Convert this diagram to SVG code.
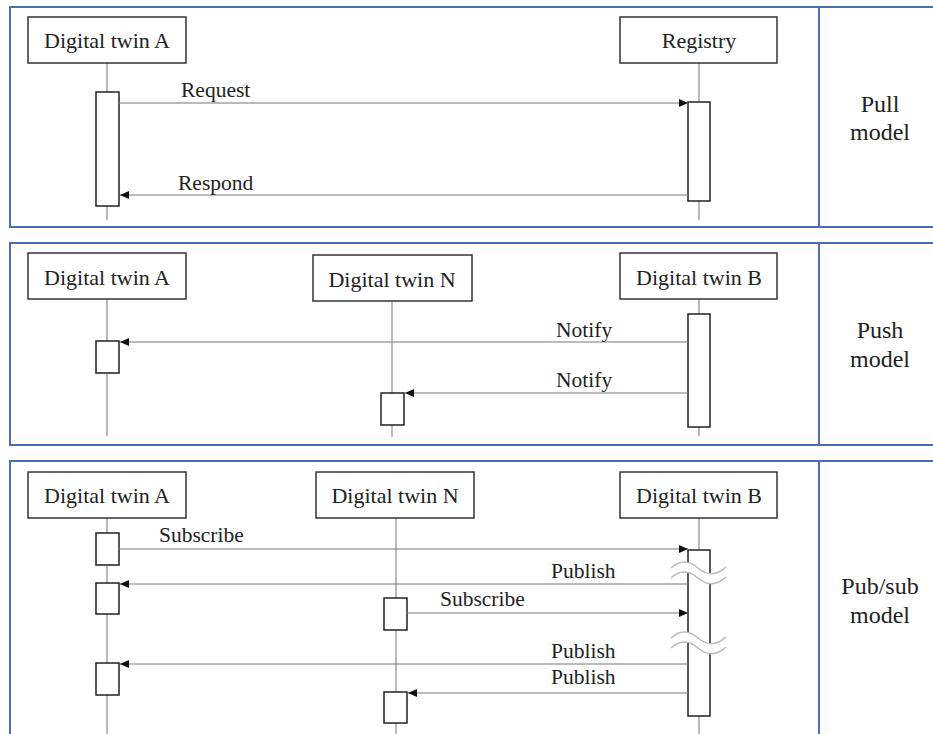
<svg xmlns="http://www.w3.org/2000/svg" width="933" height="734" viewBox="0 0 933 734">
  <style>
    .frame { fill: none; stroke: #4a6db3; stroke-width: 2; }
    .divider { stroke: #4a6db3; stroke-width: 2; }
    .actor rect { fill: #fff; stroke: #333; stroke-width: 1.5; }
    .life { stroke: #777; stroke-width: 1; }
    .act { fill: #fff; stroke: #222; stroke-width: 1.5; }
    .msg { stroke: #777; stroke-width: 1; fill: none; marker-end: url(#ah); }
    .brk-fill { fill: #fff; stroke: none; }
    .brk { fill: none; stroke: #bbb; stroke-width: 1.5; }
  </style>
  <defs>
    <marker id="ah" markerUnits="userSpaceOnUse" markerWidth="9" markerHeight="8" refX="9" refY="4" orient="auto">
      <path d="M0,0 L9,4 L0,8 z" fill="#111"/>
    </marker>
  </defs>

  <rect width="933" height="734" fill="#fff"/>

  <!-- panel frames -->
  <g id="frames">
    <rect class="frame" x="10" y="7" width="930" height="220"/>
    <line class="divider" x1="819" y1="7" x2="819" y2="227"/>
    <rect class="frame" x="10" y="243" width="930" height="202"/>
    <line class="divider" x1="819" y1="243" x2="819" y2="445"/>
    <rect class="frame" x="10" y="461" width="930" height="300"/>
    <line class="divider" x1="819" y1="461" x2="819" y2="734"/>
  </g>

  <!-- lifelines -->
  <g id="lifelines">
    <line class="life" x1="107" y1="63" x2="107" y2="220"/>
    <line class="life" x1="699" y1="63" x2="699" y2="220"/>
    <line class="life" x1="107" y1="299" x2="107" y2="436"/>
    <line class="life" x1="392" y1="301" x2="392" y2="437"/>
    <line class="life" x1="699" y1="299" x2="699" y2="436"/>
    <line class="life" x1="107" y1="518" x2="107" y2="734"/>
    <line class="life" x1="396" y1="518" x2="396" y2="734"/>
    <line class="life" x1="699" y1="518" x2="699" y2="734"/>
  </g>

  <g font-family="Liberation Serif, serif" fill="#222">
  <!-- Pull model -->
  <g id="pull-twin-a" class="actor" font-size="22" text-anchor="middle">
    <rect x="28" y="17" width="158" height="46"/>
    <text x="107" y="48">Digital twin A</text>
  </g>
  <g id="pull-registry" class="actor" font-size="22" text-anchor="middle">
    <rect x="620" y="17" width="157" height="46"/>
    <text x="699" y="48">Registry</text>
  </g>
  <g id="pull-activations">
    <rect class="act" x="96" y="92" width="23" height="114"/>
    <rect class="act" x="688" y="102" width="22" height="99"/>
  </g>
  <g id="pull-label" font-size="24" text-anchor="middle">
    <text x="880" y="112">Pull</text>
    <text x="880" y="140">model</text>
  </g>

  <!-- Push model -->
  <g id="push-twin-a" class="actor" font-size="22" text-anchor="middle">
    <rect x="28" y="253" width="158" height="46"/>
    <text x="107" y="285">Digital twin A</text>
  </g>
  <g id="push-twin-n" class="actor" font-size="22" text-anchor="middle">
    <rect x="313" y="255" width="159" height="46"/>
    <text x="392" y="287">Digital twin N</text>
  </g>
  <g id="push-twin-b" class="actor" font-size="22" text-anchor="middle">
    <rect x="620" y="253" width="157" height="46"/>
    <text x="699" y="285">Digital twin B</text>
  </g>
  <g id="push-activations">
    <rect class="act" x="96" y="341" width="23" height="32"/>
    <rect class="act" x="381" y="393" width="23" height="32"/>
    <rect class="act" x="688" y="314" width="22" height="113"/>
  </g>
  <g id="push-label" font-size="24" text-anchor="middle">
    <text x="880" y="338">Push</text>
    <text x="880" y="367">model</text>
  </g>

  <!-- Pub/sub model -->
  <g id="pubsub-twin-a" class="actor" font-size="22" text-anchor="middle">
    <rect x="28" y="472" width="158" height="46"/>
    <text x="107" y="503">Digital twin A</text>
  </g>
  <g id="pubsub-twin-n" class="actor" font-size="22" text-anchor="middle">
    <rect x="316" y="472" width="158" height="46"/>
    <text x="395" y="503">Digital twin N</text>
  </g>
  <g id="pubsub-twin-b" class="actor" font-size="22" text-anchor="middle">
    <rect x="620" y="472" width="157" height="46"/>
    <text x="699" y="503">Digital twin B</text>
  </g>
  <g id="pubsub-activations">
    <rect class="act" x="96" y="533" width="23" height="32"/>
    <rect class="act" x="96" y="583" width="23" height="31"/>
    <rect class="act" x="96" y="663" width="23" height="32"/>
    <rect class="act" x="384" y="598" width="23" height="32"/>
    <rect class="act" x="384" y="692" width="23" height="31"/>
    <rect class="act" x="688" y="550" width="22" height="166"/>
  </g>
  <g id="pubsub-label" font-size="24" text-anchor="middle">
    <text x="880" y="594">Pub/sub</text>
    <text x="880" y="623">model</text>
  </g>

  <!-- messages -->
  <g id="connectors">
    <line class="msg" x1="119" y1="103" x2="688" y2="103"/>
    <line class="msg" x1="688" y1="195" x2="120" y2="195"/>
    <line class="msg" x1="688" y1="342" x2="120" y2="342"/>
    <line class="msg" x1="688" y1="393" x2="405" y2="393"/>
    <line class="msg" x1="119" y1="549" x2="688" y2="549"/>
    <line class="msg" x1="688" y1="584" x2="120" y2="584"/>
    <line class="msg" x1="407" y1="613" x2="688" y2="613"/>
    <line class="msg" x1="688" y1="664" x2="120" y2="664"/>
    <line class="msg" x1="688" y1="693" x2="408" y2="693"/>
  </g>

  <g id="message-labels" font-size="21.5">
    <text x="181" y="97">Request</text>
    <text x="178" y="190">Respond</text>
    <text x="556" y="337">Notify</text>
    <text x="556" y="387">Notify</text>
    <text x="159" y="542">Subscribe</text>
    <text x="551" y="578">Publish</text>
    <text x="440" y="606">Subscribe</text>
    <text x="551" y="658">Publish</text>
    <text x="551" y="684">Publish</text>
  </g>
  </g>

  <!-- time-break marks on the Digital twin B activation -->
  <g id="time-breaks">
    <path class="brk-fill" d="M671,568 Q684,556 698,568 T726,567 L726,577 Q712,590 698,578 Q684,566 671,578 Z"/>
    <path class="brk" d="M671,568 Q684,556 698,568 T726,567"/>
    <path class="brk" d="M671,578 Q684,566 698,578 T726,577"/>
    <path class="brk-fill" d="M671,638 Q684,626 698,638 T726,637 L726,647 Q712,660 698,648 Q684,636 671,648 Z"/>
    <path class="brk" d="M671,638 Q684,626 698,638 T726,637"/>
    <path class="brk" d="M671,648 Q684,636 698,648 T726,647"/>
  </g>
</svg>
